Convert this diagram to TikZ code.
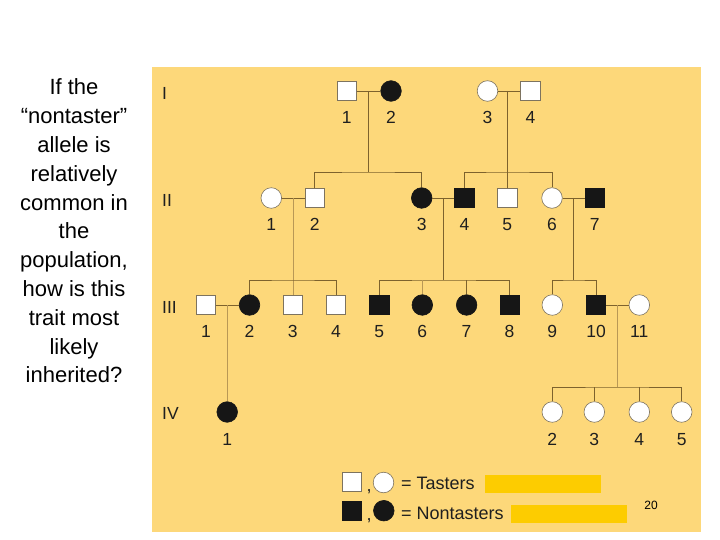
\documentclass[tikz,border=0pt]{standalone}
\usepackage{fontspec}
\setmainfont{Liberation Sans}
\usetikzlibrary{calc}
\definecolor{panel}{RGB}{253,216,122}
\definecolor{barC}{RGB}{253,204,0}
\definecolor{lineC}{RGB}{125,98,45}
\definecolor{lineL}{RGB}{185,152,85}
\definecolor{symE}{RGB}{125,115,95}
\definecolor{symF}{RGB}{22,22,22}
\begin{document}
\begin{tikzpicture}[x=1pt,y=-1pt,
  male/.style={rectangle, minimum size=19.5pt, inner sep=0pt, draw=symE, fill=white, line width=0.6pt},
  female/.style={circle, minimum size=20.6pt, inner sep=0pt, draw=symE, fill=white, line width=0.6pt},
  aff/.style={fill=symF, draw=symF},
  num/.style={font=\fontsize{17.5}{20}\selectfont, inner sep=0pt, text=black!88},
  idno/.style={num, anchor=base},
  leg/.style={font=\fontsize{18}{21}\selectfont, inner sep=0pt, text=black!88},
  link/.style={draw=lineC, line width=0.8pt},
  faint/.style={draw=lineL, line width=0.8pt},
  barbox/.style={rectangle, fill=barC, inner sep=0pt, minimum width=116pt, minimum height=18pt},
  qtext/.style={font=\fontsize{22}{28.8}\selectfont, align=center, inner sep=0pt}
]
\useasboundingbox (0,0) rectangle (720,540);
\fill[white] (0,0) rectangle (720,540);
\fill[panel] (152,67) rectangle (701,532);

% question
\node[qtext] (q) at (74,231) {If the\\“nontaster”\\allele is\\relatively\\common in\\the\\population,\\how is this\\trait most\\likely\\inherited?};

% generation labels
\node[num, anchor=base west] (gI) at (162,99.3) {I};
\node[num, anchor=base west] (gII) at (162,206.3) {II};
\node[num, anchor=base west] (gIII) at (162,313.3) {III};
\node[num, anchor=base west] (gIV) at (162,419.3) {IV};

% generation I
\node[male] (I1) at (346.7,91) {};
\node[female, aff] (I2) at (391,91) {};
\node[female] (I3) at (487.5,91) {};
\node[male] (I4) at (530.5,91) {};
\node[idno] (nI1) at (346.7,123.3) {1};
\node[idno] (nI2) at (391,123.3) {2};
\node[idno] (nI3) at (487.5,123.3) {3};
\node[idno] (nI4) at (530.5,123.3) {4};

% generation II
\node[female] (II1) at (271.3,198) {};
\node[male] (II2) at (314.7,198) {};
\node[female, aff] (II3) at (421.7,198) {};
\node[male, aff] (II4) at (464.5,198) {};
\node[male] (II5) at (507.3,198) {};
\node[female] (II6) at (552,198) {};
\node[male, aff] (II7) at (594.7,198) {};
\node[idno] (nII1) at (271.3,230.3) {1};
\node[idno] (nII2) at (314.7,230.3) {2};
\node[idno] (nII3) at (421.7,230.3) {3};
\node[idno] (nII4) at (464.5,230.3) {4};
\node[idno] (nII5) at (507.3,230.3) {5};
\node[idno] (nII6) at (552,230.3) {6};
\node[idno] (nII7) at (594.7,230.3) {7};

% generation III
\node[male] (III1) at (206,305) {};
\node[female, aff] (III2) at (249.5,305) {};
\node[male] (III3) at (292.7,305) {};
\node[male] (III4) at (336,305) {};
\node[male, aff] (III5) at (379.3,305) {};
\node[female, aff] (III6) at (422.3,305) {};
\node[female, aff] (III7) at (466.6,305) {};
\node[male, aff] (III8) at (509.6,305) {};
\node[female] (III9) at (552.3,305) {};
\node[male, aff] (III10) at (596,305) {};
\node[female] (III11) at (639.3,305) {};
\node[idno] (nIII1) at (206,337.3) {1};
\node[idno] (nIII2) at (249.5,337.3) {2};
\node[idno] (nIII3) at (292.7,337.3) {3};
\node[idno] (nIII4) at (336,337.3) {4};
\node[idno] (nIII5) at (379.3,337.3) {5};
\node[idno] (nIII6) at (422.3,337.3) {6};
\node[idno] (nIII7) at (466.6,337.3) {7};
\node[idno] (nIII8) at (509.6,337.3) {8};
\node[idno] (nIII9) at (552.3,337.3) {9};
\node[idno] (nIII10) at (596,337.3) {10};
\node[idno] (nIII11) at (639.3,337.3) {11};

% generation IV
\node[female, aff] (IV1) at (227.2,412) {};
\node[female] (IV2) at (552.3,412) {};
\node[female] (IV3) at (594.3,412) {};
\node[female] (IV4) at (639.3,412) {};
\node[female] (IV5) at (681.7,412) {};
\node[idno] (nIV1) at (227.2,445.3) {1};
\node[idno] (nIV2) at (552.3,445.3) {2};
\node[idno] (nIV3) at (594.3,445.3) {3};
\node[idno] (nIV4) at (639.3,445.3) {4};
\node[idno] (nIV5) at (681.7,445.3) {5};

% family A: I1 x I2
\draw[link] (I1.east) -- (I2.west);
\coordinate (mA) at ($(I1.east)!0.5!(I2.west)$);
\path (mA) ++(0,81) coordinate (sA);
\draw[link] (mA) -- (sA);
\draw[link] (II2.north) |- (sA) -| (II3.north);

% family B: I3 x I4
\draw[link] (I3.east) -- (I4.west);
\coordinate (mB) at (II5.north |- I3.east);
\path (mB) ++(0,81) coordinate (sB);
\draw[link] (mB) -- (II5.north);
\draw[link] (II4.north) |- (sB) -| (II6.north);

% family C: II1 x II2
\draw[link] (II1.east) -- (II2.west);
\coordinate (mC) at ($(II1.east)!0.5!(II2.west)$);
\path (mC) ++(0,82) coordinate (sC);
\draw[faint] (mC) -- (mC |- III3.north);
\draw[link] (III2.north) |- (sC) -| (III4.north);

% family D: II3 x II4
\draw[link] (II3.east) -- (II4.west);
\coordinate (mD) at ($(II3.east)!0.5!(II4.west)$);
\path (mD) ++(0,82) coordinate (sD);
\draw[link] (mD) -- (sD);
\draw[link] (III5.north) |- (sD) -| (III8.north);
\draw[faint] (III6.north) -- (III6.north |- sD);
\draw[link] (III7.north) -- (III7.north |- sD);

% family E: II6 x II7
\draw[link] (II6.east) -- (II7.west);
\coordinate (mE) at ($(II6.east)!0.5!(II7.west)$);
\path (mE) ++(0,82) coordinate (sE);
\draw[link] (mE) -- (sE);
\draw[link] (III9.north) |- (sE) -| (III10.north);

% family F: III1 x III2
\draw[link] (III1.east) -- (III2.west);
\coordinate (mF) at ($(III1.east)!0.5!(III2.west)$);
\draw[faint] (mF) -- (mF |- IV1.north);

% family G: III10 x III11
\draw[link] (III10.east) -- (III11.west);
\coordinate (mG) at ($(III10.east)!0.5!(III11.west)$);
\path (mG) ++(0,82) coordinate (sG);
\draw[faint] (mG) -- (sG);
\draw[link] (IV2.north) |- (sG) -| (IV5.north);
\draw[link] (IV3.north) -- (IV3.north |- sG);
\draw[link] (IV4.north) -- (IV4.north |- sG);

% legend
\node[male] (LT1) at (352,482) {};
\node[leg, anchor=base] (LTc) at (369,491) {,};
\node[female] (LT2) at (383.5,482.5) {};
\node[leg, anchor=base west] (LTt) at (401,489.8) {= Tasters};
\node[barbox] (bar1) at (543,484.2) {};
\node[male, aff] (LN1) at (352,511) {};
\node[leg, anchor=base] (LNc) at (369,520) {,};
\node[female, aff] (LN2) at (383.8,510.7) {};
\node[leg, anchor=base west] (LNt) at (401,519.8) {= Nontasters};
\node[barbox] (bar2) at (569,514.2) {};
\node[font=\fontsize{12}{14}\selectfont, inner sep=0pt, anchor=base] (pg) at (651,509.3) {20};
\end{tikzpicture}
\end{document}
